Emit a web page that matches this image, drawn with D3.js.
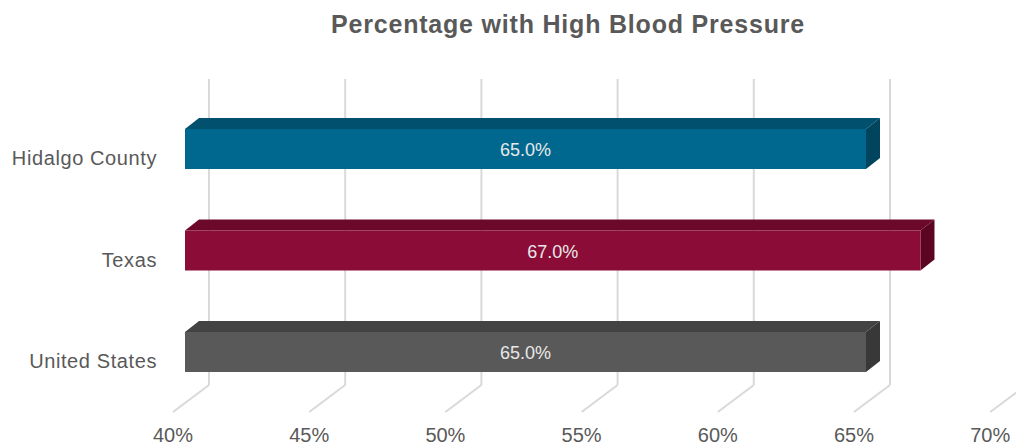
<!DOCTYPE html>
<html>
<head>
<meta charset="utf-8">
<script src="https://cdn.jsdelivr.net/npm/d3@7"></script>
<style>
  html, body { margin: 0; padding: 0; background: #fff; }
  svg { display: block; font-family: "Liberation Sans", Arial, sans-serif; }
</style>
</head>
<body>
<svg id="chart" width="1016" height="445"></svg>
<script>
const title = "Percentage with High Blood Pressure";
const categories = ["Hidalgo County", "Texas", "United States"];
const values = [65.0, 67.0, 65.0];
const labels = ["65.0%", "67.0%", "65.0%"];
const tickValues = [40, 45, 50, 55, 60, 65, 70];
const tickLabels = ["40%", "45%", "50%", "55%", "60%", "65%", "70%"];
const frontColors = ["#00688f", "#8b0c37", "#595959"];
const topColors = ["#00506e", "#6c0829", "#434343"];
const sideColors = ["#00445e", "#5c0522", "#383838"];

const svg = d3.select("#chart");

// front-plane value scale (at bar front depth)
const x = d3.scaleLinear().domain([40, 70]).range([185, 185 + 30 * 27.24]);
const y = d3.scalePoint().domain(categories).range([149, 352]);
const barH = 40;
// depth offsets
const bar3d = { dx: 14, dy: -11 };
const wall = { dx: 24, top: 79, bottom: 385 };
const floorFront = { dx: -12, y: 412 };

const grid = svg.append("g");
tickValues.forEach(v => {
  const xw = x(v) + wall.dx;
  grid.append("line")
    .attr("x1", xw).attr("x2", xw)
    .attr("y1", wall.top).attr("y2", wall.bottom)
    .attr("stroke", "#d9d9d9").attr("stroke-width", 2);
  grid.append("line")
    .attr("x1", xw).attr("y1", wall.bottom)
    .attr("x2", x(v) + floorFront.dx).attr("y2", floorFront.y)
    .attr("stroke", "#d9d9d9").attr("stroke-width", 2);
});

// tick labels
svg.append("g").selectAll("text").data(tickValues).join("text")
  .attr("x", d => x(d) + floorFront.dx)
  .attr("y", 442)
  .attr("text-anchor", "middle")
  .attr("fill", "#595959")
  .attr("font-size", "20px")
  .text((d, i) => tickLabels[i]);

// bars
const bars = svg.append("g");
categories.forEach((c, i) => {
  const x0 = x(40), x1 = x(values[i]);
  const yt = y(c) - barH / 2, yb = yt + barH;
  const { dx, dy } = bar3d;
  bars.append("polygon")
    .attr("points", [[x0, yt], [x0 + dx, yt + dy], [x1 + dx, yt + dy], [x1, yt]].join(" "))
    .attr("fill", topColors[i]);
  bars.append("polygon")
    .attr("points", [[x1, yt], [x1 + dx, yt + dy], [x1 + dx, yb + dy], [x1, yb]].join(" "))
    .attr("fill", sideColors[i]);
  bars.append("rect")
    .attr("x", x0).attr("y", yt)
    .attr("width", x1 - x0).attr("height", barH)
    .attr("fill", frontColors[i]);
  bars.append("text")
    .attr("x", (x0 + x1) / 2)
    .attr("y", y(c) + 7)
    .attr("text-anchor", "middle")
    .attr("fill", "#e8e8e8")
    .attr("font-size", "18px")
    .text(labels[i]);
});

// category labels
svg.append("g").selectAll("text").data(categories).join("text")
  .attr("x", 157)
  .attr("y", d => y(d) + 16)
  .attr("text-anchor", "end")
  .attr("fill", "#595959")
  .attr("font-size", "20px")
  .attr("letter-spacing", "0.6px")
  .text(d => d);

// title
svg.append("text")
  .attr("x", 568)
  .attr("y", 33)
  .attr("text-anchor", "middle")
  .attr("fill", "#595959")
  .attr("font-size", "25px")
  .attr("font-weight", "bold")
  .attr("letter-spacing", "0.8px")
  .text(title);
</script>
</body>
</html>
